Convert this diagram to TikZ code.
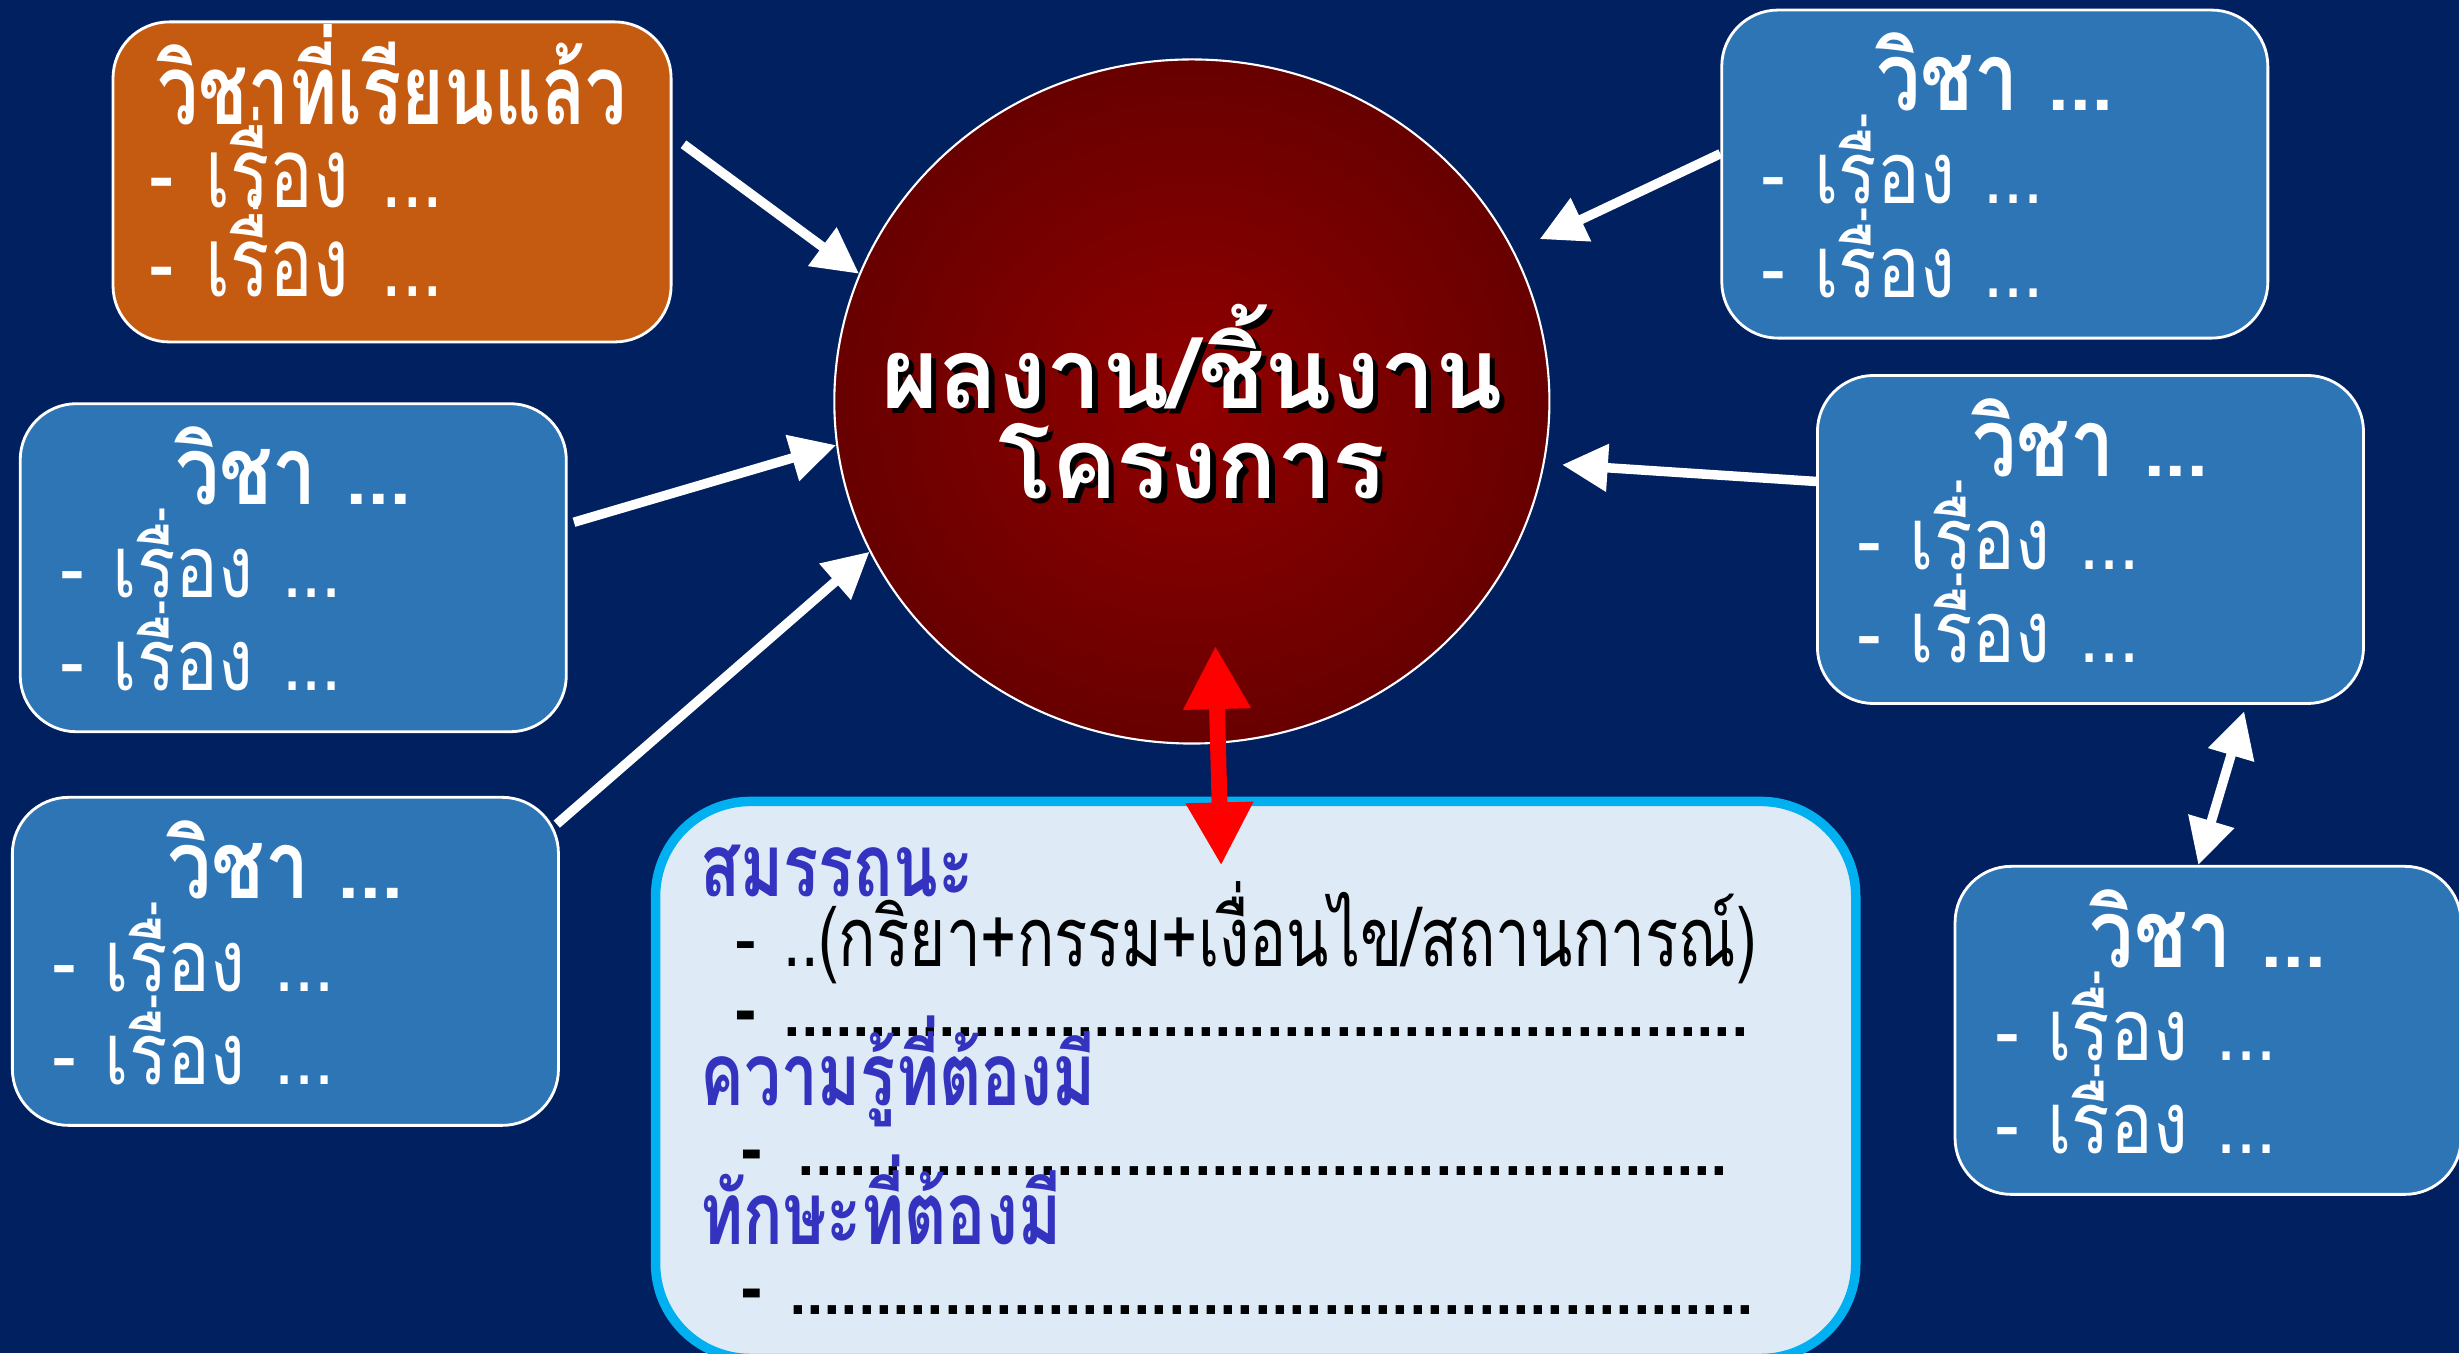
\documentclass[tikz,border=0pt]{standalone}
\usepackage{fontspec}
\newfontfamily\thai[Script=Thai]{Loma}
\newfontfamily\thaibox[Script=Thai,FakeStretch=0.83]{Loma}
\newfontfamily\thaicond[Script=Thai,FakeStretch=0.75]{Loma}
\usetikzlibrary{shapes.geometric,arrows.meta,calc}
\definecolor{bgnavy}{HTML}{002060}
\definecolor{subjblue}{HTML}{2E75B6}
\definecolor{doneorange}{HTML}{C55A11}
\definecolor{compfill}{HTML}{DEEBF7}
\definecolor{compline}{HTML}{00B0F0}
\definecolor{headblue}{HTML}{3333C0}
\definecolor{ballin}{RGB}{145,0,0}
\definecolor{ballout}{RGB}{62,0,0}
\pgfdeclareradialshading{redball}{\pgfpoint{0bp}{0bp}}{color(0bp)=(ballin); color(50bp)=(ballout); color(100bp)=(ballout)}
\tikzset{
  subject/.style={draw=white, line width=0.8pt, fill=subjblue, rounded corners=16pt,
    minimum width=54.6mm, minimum height=32.8mm, inner xsep=4mm, inner ysep=0pt, text width=46.6mm,
    align=left, text=white, font=\thaibox\fontsize{24.5}{26.5}\selectfont,
    execute at begin node={\lineskiplimit=-100pt}, execute at end node={\par\vspace{5pt}}},
  flow/.style={draw=white, line width=2.7pt, -{Triangle[length=13pt,width=13pt]}},
}
\begin{document}
\begin{tikzpicture}[x=0.1568mm, y=-0.1568mm]
  \useasboundingbox (0,0) rectangle (1568,863);
  \fill[bgnavy] (0,0) rectangle (1568,863);
  % the work in the middle
  \node[ellipse, draw=white, line width=0.6pt, shading=redball, inner sep=0pt,
    minimum width=71.5mm, minimum height=68.4mm, text=white,
    font=\thai\bfseries\fontsize{28}{25.5}\selectfont,
    path picture={\node[text=black, inner sep=0pt, font=\thai\bfseries\fontsize{28}{25.5}\selectfont]
      at ([shift={(1.5pt,-1.5pt)}]path picture bounding box.center)
      {\makebox[0pt]{\parbox{80mm}{\lineskiplimit=-100pt\baselineskip=25.5pt\centering ผลงาน/ชิ้นงาน\\โครงการ}}};}]
    (work) at (760,256)
    {\makebox[0pt]{\parbox{80mm}{\lineskiplimit=-100pt\baselineskip=25.5pt\centering ผลงาน/ชิ้นงาน\\โครงการ}}};
  % subjects
  \node[subject, fill=doneorange, minimum width=55.8mm, minimum height=32mm,
    inner xsep=3.6mm, text width=48.6mm, font=\thaicond\fontsize{27.7}{25.5}\selectfont,
    execute at end node={\par\vspace{7pt}}]
    (done) at (250,116) {{\centering\bfseries วิชาที่เรียนแล้ว\par}\vspace{-2pt}- เรื่อง ...\\- เรื่อง ...};
  \node[subject] (subj1) at (187,362) {{\centering\bfseries\fontsize{27}{26.5}\selectfont วิชา ...\par}- เรื่อง ...\\- เรื่อง ...};
  \node[subject] (subj2) at (182,613) {{\centering\bfseries\fontsize{27}{26.5}\selectfont วิชา ...\par}- เรื่อง ...\\- เรื่อง ...};
  \node[subject] (subj3) at (1272,111) {{\centering\bfseries\fontsize{27}{26.5}\selectfont วิชา ...\par}- เรื่อง ...\\- เรื่อง ...};
  \node[subject] (subj4) at (1333,344) {{\centering\bfseries\fontsize{27}{26.5}\selectfont วิชา ...\par}- เรื่อง ...\\- เรื่อง ...};
  \node[subject, minimum width=50.6mm, text width=42.6mm] (subj5) at (1408,657)
    {{\centering\bfseries\fontsize{27}{26.5}\selectfont วิชา ...\par}- เรื่อง ...\\- เรื่อง ...};
  % competency box
  \node[anchor=north west, draw=compline, line width=2.7pt, fill=compfill, rounded corners=27pt,
    minimum width=120mm, minimum height=55.7mm, inner xsep=4.3mm, text width=111mm, align=left,
    font=\thaicond\fontsize{23.5}{19.8}\selectfont] (comp) at (415,508)
    {\lineskiplimit=-100pt\baselineskip=19.8pt
     {\color{headblue}\bfseries\fontsize{24.8}{19.8}\selectfont สมรรถนะ}\\
     \hspace*{10pt}- ..(กริยา+กรรม+เงื่อนไข/สถานการณ์)\\
     \hspace*{10pt}{\bfseries - ........................................................}\\
     {\color{headblue}\bfseries\fontsize{24.8}{19.8}\selectfont ความรู้ที่ต้องมี}\\
     \hspace*{11.5pt}{\bfseries - \hspace{2.5pt}......................................................}\\
     {\color{headblue}\bfseries\fontsize{24.8}{19.8}\selectfont ทักษะที่ต้องมี}\\
     \hspace*{11.5pt}{\bfseries - ........................................................}};
  % links
  \begin{scope}[flow]
    \draw ($(done.east)+(7,-24)$) to (work.159);
    \draw ($(subj1.east)+(4,-29)$) to (work.187);
    \draw ($(subj2.north east)+(-2,18)$) to (work.205);
    \draw[shorten >=8pt] ($(subj3.west)+(0,-13)$) to (work.25);
    \draw[shorten >=5pt] ($(subj4.west)+(0,-37)$) to (work.-10);
    \draw[{Triangle[length=13pt,width=13pt]}-{Triangle[length=13pt,width=13pt]}]
      ($(subj4.south east)+(-77,4)$) to ($(subj5.north west)+(156,0)$);
  \end{scope}
  \draw[red, line width=4.5pt, {Triangle[length=18pt,width=18pt]}-{Triangle[length=18pt,width=18pt]}]
    ($(work.south)+(15,-63)$) to ($(comp.north)+(-22,44)$);
\end{tikzpicture}
\end{document}
